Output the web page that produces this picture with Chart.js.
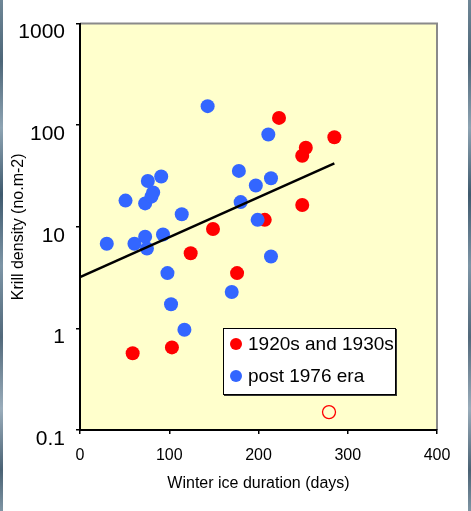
<!DOCTYPE html>
<html>
<head>
<meta charset="utf-8">
<script src="https://cdn.jsdelivr.net/npm/chart.js@4.4.1/dist/chart.umd.min.js"></script>
<style>
  html, body { margin: 0; padding: 0; background: #ffffff; }
  #wrap { position: relative; width: 471px; height: 511px; overflow: hidden; background: #fff; }
  #c { position: absolute; left: 0; top: 0; }
  .strip { position: absolute; top: 0; width: 3px; height: 511px;
    background: linear-gradient(180deg, #6f8797 0%, #4d6678 12%, #8ea4b3 25%, #3f5a6e 38%, #7d95a6 52%, #52697b 66%, #9aadbb 80%, #4a6274 92%, #7f95a4 100%); }
  #legend { position: absolute; left: 223px; top: 328px; width: 171px; height: 65px;
    background: #fff; border: 1px solid #000; box-shadow: 1px 1px 0 #333;
    font-family: "Liberation Sans", Arial, sans-serif; font-size: 19px; color: #000; }
  .row { position: absolute; left: 0; height: 22px; line-height: 22px; white-space: nowrap; }
  .dot { position: absolute; left: 6px; top: 5px; width: 12px; height: 12px; border-radius: 50%; }
  .lbl { position: absolute; left: 24px; top: 0; }
</style>
</head>
<body>
<div id="wrap">
  <canvas id="c" width="471" height="511"></canvas>
  <div class="strip" style="left:0"></div>
  <div class="strip" style="left:468px"></div>
  <div id="legend"></div>
</div>
<script>
// ---- data ----
const oldEraLabel = '1920s and 1930s';
const oldEraX = [59, 103, 124, 149, 176, 207, 223, 249, 253, 249, 285];
const oldEraY = [0.57, 0.65, 5.5, 9.5, 3.5, 11.7, 118, 50, 60, 16.4, 76];

const modernLabel = 'post 1976 era';
const modernX = [30, 51, 61, 73, 75, 73, 76, 82, 80, 91, 93, 98, 102, 117, 114, 143, 170, 178, 180, 197, 199, 211, 214, 214];
const modernY = [6.8, 18.1, 6.8, 8.0, 6.1, 17.0, 28.2, 21.8, 19.8, 31.3, 8.4, 3.5, 1.73, 0.97, 13.3, 154, 2.28, 35.5, 17.5, 25.5, 11.7, 81, 30.1, 5.1];

const outlierX = [279];
const outlierY = [0.15];

const trendX = [0, 285];
const trendY = [3.2, 42];

const yTickValues = [0.1, 1, 10, 100, 1000];
const yTickLabels = ['0.1', '1', '10', '100', '1000'];
const xTickValues = [0, 100, 200, 300, 400];

const xTitle = 'Winter ice duration (days)';
const yTitle = 'Krill density (no.m-2)';

const RED = '#ff0000';
const BLUE = '#3366ff';
const FONT = '"Liberation Sans", Arial, sans-serif';

const pts = (xs, ys) => xs.map((x, i) => ({x: x, y: ys[i]}));

const plotBg = {
  id: 'plotBg',
  beforeDraw(chart) {
    const {ctx, chartArea: a} = chart;
    ctx.save();
    ctx.fillStyle = '#ffffcc';
    ctx.fillRect(a.left, a.top, a.right - a.left, a.bottom - a.top);
    ctx.strokeStyle = '#8a8a8a';
    ctx.lineWidth = 2;
    ctx.beginPath();
    ctx.moveTo(a.left, a.top);
    ctx.lineTo(a.right, a.top);
    ctx.lineTo(a.right, a.bottom);
    ctx.stroke();
    ctx.restore();
  }
};

const chart = new Chart(document.getElementById('c'), {
  type: 'scatter',
  data: {
    datasets: [
      { type: 'line', label: 'trend', data: pts(trendX, trendY), borderColor: '#000', borderWidth: 2.5,
        pointRadius: 0, showLine: true, fill: false, tension: 0 },
      { label: modernLabel, data: pts(modernX, modernY), backgroundColor: BLUE, borderWidth: 0, pointRadius: 7 },
      { label: oldEraLabel, data: pts(oldEraX, oldEraY), backgroundColor: RED, borderWidth: 0, pointRadius: 7 },
      { label: 'outlier', data: pts(outlierX, outlierY), backgroundColor: 'rgba(0,0,0,0)', borderColor: RED,
        borderWidth: 1.3, pointRadius: 6.5 }
    ]
  },
  options: {
    responsive: false,
    devicePixelRatio: 1,
    animation: false,
    layout: { padding: { left: 0, right: 34, top: 20, bottom: 0 } },
    plugins: { legend: { display: false }, tooltip: { enabled: false } },
    scales: {
      x: {
        type: 'linear', min: 0, max: 400,
        afterBuildTicks: s => { s.ticks = xTickValues.map(v => ({value: v})); },
        afterFit: s => { s.height = 81; },
        grid: { drawOnChartArea: false, drawTicks: true, tickLength: 4, color: '#000', lineWidth: 1.5 },
        border: { color: '#000', width: 2 },
        ticks: { color: '#000', font: { family: FONT, size: 16 }, padding: 12, maxRotation: 0,
                 callback: v => String(v) },
        title: { display: true, text: xTitle, color: '#000', font: { family: FONT, size: 16 },
                 padding: { top: 0, bottom: 18 } }
      },
      y: {
        type: 'logarithmic', min: 0.1, max: 1000,
        afterBuildTicks: s => { s.ticks = yTickValues.map(v => ({value: v})); },
        afterFit: s => { s.width = 80; },
        grid: { drawOnChartArea: false, drawTicks: true, tickLength: 4, color: '#000', lineWidth: 1.5 },
        border: { color: '#000', width: 2 },
        ticks: { color: '#000', font: { family: FONT, size: 21 }, padding: 11, labelOffset: 9,
                 callback: (v) => { const i = yTickValues.indexOf(v); return i >= 0 ? yTickLabels[i] : ''; } },
        title: { display: true, text: yTitle, color: '#000', font: { family: FONT, size: 16 },
                 padding: { top: 9, bottom: 0 } }
      }
    }
  },
  plugins: [plotBg]
});

// HTML legend built from the chart's own datasets
const legend = document.getElementById('legend');
[2, 1].forEach((di, r) => {
  const ds = chart.data.datasets[di];
  const row = document.createElement('div');
  row.className = 'row';
  row.style.top = (r === 0 ? 4 : 36) + 'px';
  const dot = document.createElement('div');
  dot.className = 'dot';
  dot.style.background = ds.backgroundColor;
  const lbl = document.createElement('div');
  lbl.className = 'lbl';
  lbl.textContent = ds.label;
  row.appendChild(dot); row.appendChild(lbl);
  legend.appendChild(row);
});
</script>
</body>
</html>
